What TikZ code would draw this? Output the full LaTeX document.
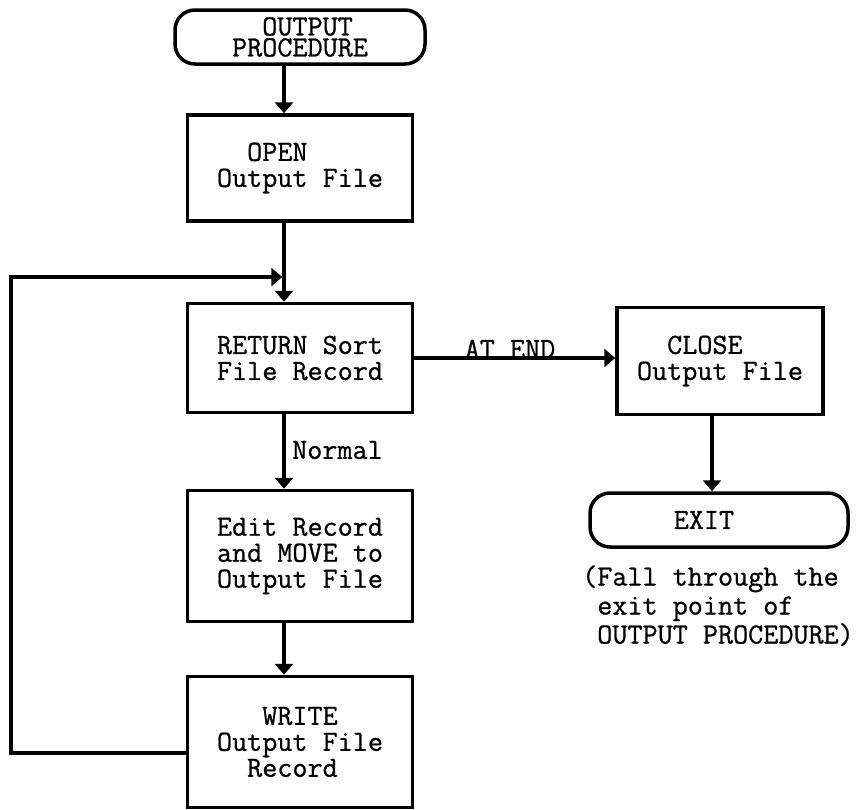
\documentclass[tikz,border=0pt]{standalone}
\usepackage{fontspec}
\newfontfamily\twfont{Latin Modern Mono}[FakeBold=0.8]
\usetikzlibrary{arrows.meta}
\begin{document}
\begin{tikzpicture}[x=1pt,y=-1pt,
  every node/.style={font=\twfont\fontsize{29.3}{26}\selectfont, inner sep=0pt},
  procbox/.style={draw, line width=3.5pt, align=left, minimum width=225pt},
  term/.style={draw, line width=3.5pt, rounded corners=20pt},
  flow/.style={line width=3.5pt, -{Triangle[width=18pt,length=11pt]}},
  conn/.style={line width=3.5pt}]
\useasboundingbox (0,0) rectangle (862,809);
% nodes
\node[term, minimum width=250pt, minimum height=54pt, align=left,
      font=\twfont\fontsize{29.3}{21}\selectfont] (start) at (300,37)
      {\phantom{XX}OUTPUT\\PROCEDURE};
\node[procbox, minimum height=106pt] (open) at (300,168)
      {\phantom{XX}OPEN\\Output File};
\node[procbox, minimum height=109pt] (return) at (300,358)
      {RETURN Sort\\File Record};
\node[procbox, minimum height=131pt] (edit) at (300,556)
      {Edit Record\\and MOVE to\\Output File};
\node[procbox, minimum height=131pt] (write) at (300,742)
      {\phantom{XXX}WRITE\\Output File\\\phantom{XX}Record};
\node[procbox, minimum width=206pt, minimum height=107pt] (close) at (720,361)
      {\phantom{XX}CLOSE\\Output File};
\node[term, minimum width=258pt, minimum height=54pt] (exit) at (719,520)
      {EXIT\phantom{XX}};
\node[align=left, anchor=north west,
      font=\twfont\fontsize{29.3}{29}\selectfont] (note) at (582,565)
      {(Fall through the\\\phantom{X}exit point of\\\phantom{X}OUTPUT PROCEDURE)};
\node[anchor=base] (atend) at (510,358) {AT END};
\node[anchor=west] (normal) at (292,450) {Normal};
% connectors
\coordinate (sp) at (284,0);
\coordinate (ex) at (712,0);
\coordinate (lp) at (284,277);
\draw[flow] (start.south -| sp) -- (open.north -| sp);
\draw[conn] (open.south -| sp) -- (lp);
\draw[flow] (lp) -- (return.north -| sp);
\draw[flow] (return.south -| sp) -- (edit.north -| sp);
\draw[flow] (edit.south -| sp) -- (write.north -| sp);
\draw[flow] (return.east) -- (return.east -| close.west);
\draw[flow] (close.south -| ex) -- (exit.north -| ex);
\draw[flow, shorten >=1.75pt] ([yshift=-11pt]write.west) -- ++(-175,0) |- (lp);
\end{tikzpicture}
\end{document}
